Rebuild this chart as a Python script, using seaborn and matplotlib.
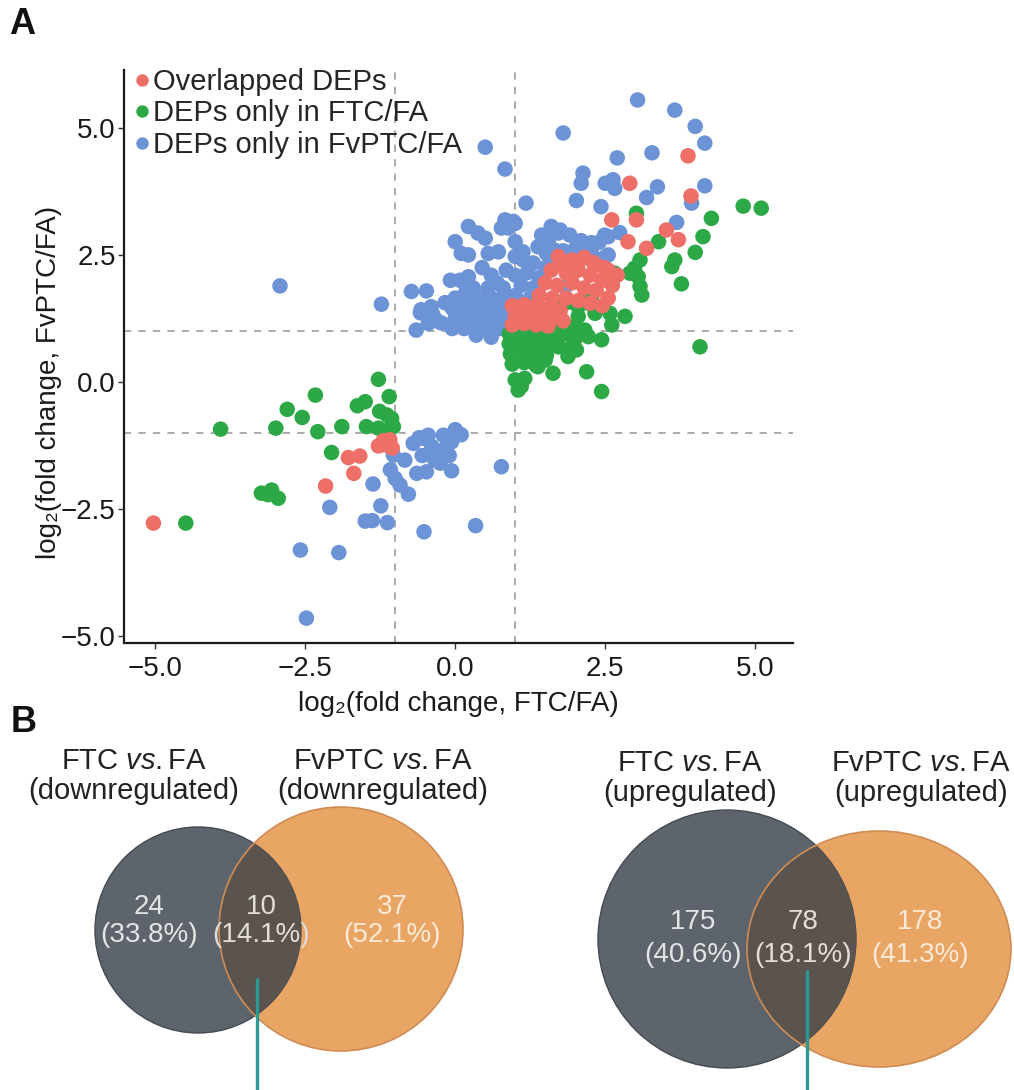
import numpy as np
import pandas as pd
import matplotlib
matplotlib.use("Agg")
import matplotlib.pyplot as plt
from matplotlib.patches import Circle, Ellipse
import seaborn as sns

# ---------------- DATA (panel A) ----------------
group_names = ["Overlapped DEPs", "DEPs only in FTC/FA", "DEPs only in FvPTC/FA"]
group_colors = ["#EE6F67", "#2CA847", "#6B93D6"]

overlap_down = [(-5.03, -2.78), (-2.16, -2.05), (-1.69, -1.80), (-1.78, -1.49), (-1.59, -1.46),
                (-1.28, -1.26), (-1.17, -1.24), (-1.09, -1.14), (-1.20, -1.16), (-1.05, -1.30)]
overlap_up_outer = [(3.88, 4.45), (3.93, 3.66), (2.91, 3.91), (2.61, 3.19), (3.02, 3.19),
                    (2.88, 2.76), (3.19, 2.63), (3.52, 2.99), (3.72, 2.80)]
overlap_up_core = [(1.72, 2.47), (1.95, 2.40), (2.15, 2.45), (2.35, 2.30), (2.55, 2.20), (2.70, 2.10),
                   (1.60, 2.20), (1.85, 2.15), (2.05, 2.20), (2.25, 2.10), (2.45, 2.00), (2.62, 1.90),
                   (1.50, 1.95), (1.70, 1.90), (1.95, 1.95), (2.15, 1.85), (2.35, 1.80), (2.55, 1.65),
                   (1.40, 1.70), (1.62, 1.65), (1.85, 1.65), (2.05, 1.60), (2.25, 1.55), (2.45, 1.50),
                   (2.30, 2.35), (2.05, 2.35), (1.80, 2.30), (2.48, 2.25),
                   (0.95, 1.50), (1.15, 1.52), (1.35, 1.50), (1.55, 1.45), (1.00, 1.30), (1.20, 1.32),
                   (1.40, 1.30), (1.60, 1.28), (0.95, 1.12), (1.15, 1.15), (1.35, 1.12), (1.55, 1.10),
                   (1.75, 1.40), (1.80, 1.20)]

ftc_down = [(-4.49, -2.78), (-3.91, -0.93), (-3.23, -2.19), (-3.06, -2.13), (-2.95, -2.29),
            (-3.12, -2.22), (-2.99, -0.91), (-2.80, -0.54), (-2.55, -0.70), (-2.33, -0.26),
            (-2.29, -0.98), (-2.06, -1.39), (-1.89, -0.88), (-1.63, -0.47), (-1.50, -0.39),
            (-1.28, 0.05), (-1.10, -0.29), (-1.26, -0.58), (-1.14, -0.65), (-1.06, -0.72),
            (-1.48, -0.88), (-1.28, -0.91), (-1.12, -0.94), (-1.03, -0.88)]
ftc_up_outer = [(4.80, 3.46), (5.10, 3.42), (4.27, 3.22), (4.13, 2.86), (4.00, 2.55), (3.66, 2.40),
                (3.61, 2.27), (3.77, 1.93), (3.39, 2.76), (3.02, 3.32), (3.08, 2.40), (2.99, 2.24),
                (3.05, 2.07), (3.08, 1.88), (3.11, 1.71), (2.91, 2.14), (2.66, 2.14), (2.83, 1.29),
                (2.44, 0.83), (4.08, 0.69)]
ftc_up_mid = [(2.58, 1.35), (2.61, 1.12), (2.22, 1.55), (2.33, 1.35), (2.16, 1.02), (2.22, 0.89),
              (1.99, 1.55), (2.05, 1.29), (1.99, 1.09), (1.77, 1.22), (1.94, 0.69), (1.88, 0.50),
              (2.02, 0.63), (2.19, 0.20), (2.44, -0.19), (1.63, 0.17), (1.83, 1.55), (2.05, 1.48),
              (2.27, 1.68), (1.66, 1.42)]
ftc_up_core = [(0.90, 0.95), (1.10, 0.98), (1.30, 0.95), (1.50, 0.92), (1.70, 0.98), (0.90, 0.75),
               (1.10, 0.78), (1.30, 0.75), (1.50, 0.72), (1.70, 0.78), (0.92, 0.55), (1.12, 0.58),
               (1.32, 0.55), (1.52, 0.52), (0.95, 0.35), (1.15, 0.38), (1.35, 0.32), (1.00, 0.04),
               (1.16, 0.07), (1.05, -0.16), (1.10, -0.09), (1.38, 0.30), (1.50, 0.43), (1.72, 0.69),
               (1.66, 0.89), (1.85, 0.95), (2.00, 0.85)]

fvptc_down = [(-2.48, -4.65), (-2.58, -3.31), (-1.94, -3.36), (-2.09, -2.47), (-1.24, -2.44),
              (-1.50, -2.74), (-1.38, -2.73), (-1.13, -2.77), (-1.37, -2.01), (-1.08, -1.73),
              (-1.00, -1.90), (-0.92, -2.03), (-0.78, -2.21), (-1.03, -1.44), (-0.84, -1.54),
              (-0.64, -1.80), (-0.48, -1.77), (-0.70, -1.21), (-0.53, -1.11), (-0.39, -1.27),
              (-0.28, -1.40), (-0.17, -1.31), (-0.06, -1.18), (0.00, -0.94), (0.10, -1.04),
              (-0.34, -1.54), (-0.06, -1.75), (-0.52, -2.95), (0.34, -2.83), (0.77, -1.67),
              (-0.45, -1.05), (-0.20, -1.05), (-0.35, -1.35), (-0.55, -1.45), (-0.10, -1.45),
              (-0.25, -1.60), (-0.60, -1.10)]
fvptc_up_high = [(3.04, 5.55), (3.66, 5.35), (4.00, 5.03), (4.16, 4.70), (1.80, 4.90), (0.50, 4.62),
                 (0.83, 4.19), (2.70, 4.41), (3.28, 4.51), (2.13, 4.11), (2.10, 3.91), (2.50, 3.91),
                 (2.63, 3.98), (2.66, 3.81), (3.37, 3.84), (3.19, 3.63), (4.16, 3.86), (3.94, 3.52),
                 (2.02, 3.57), (2.43, 3.45), (1.18, 3.52), (3.69, 3.14), (2.74, 2.94), (2.49, 2.89),
                 (2.30, 2.70), (2.22, 2.56), (2.55, 2.50), (1.72, 2.93), (1.91, 2.89), (1.55, 2.76)]
fvptc_up_mid = [(0.22, 3.06), (0.38, 2.93), (0.50, 2.83), (0.83, 3.19), (1.00, 3.12), (0.88, 3.03),
                (0.00, 2.76), (0.10, 2.53), (0.22, 2.50), (0.55, 2.53), (0.72, 2.56), (1.00, 2.76),
                (1.13, 2.56), (1.27, 2.33), (1.38, 2.66), (1.52, 2.53), (0.97, 3.16), (0.77, 3.03),
                (1.60, 3.06), (1.75, 2.99), (1.44, 2.89), (1.00, 2.47), (1.13, 2.40), (1.30, 2.34),
                (2.27, 2.74), (2.55, 2.86), (2.50, 2.46), (2.27, 2.54),
                (2.00, 2.62), (1.80, 2.58), (2.40, 2.75), (1.65, 2.42), (2.10, 2.78)]
fvptc_up_left = [(-2.92, 1.89), (-1.23, 1.53), (-0.73, 1.78), (-0.48, 1.79), (-0.65, 1.02),
                 (-0.57, 1.42), (-0.37, 1.32), (-0.23, 1.16), (-0.17, 1.56), (-0.40, 1.48),
                 (-0.58, 1.36), (-0.08, 2.00), (0.08, 2.00), (0.22, 2.07), (0.17, 1.75),
                 (-0.30, 1.20), (-0.45, 1.15)]
fvptc_up_core = [(0.30, 1.85), (0.55, 1.85), (0.80, 1.85),
                 (0.00, 1.65), (0.20, 1.65), (0.40, 1.65), (0.60, 1.65), (0.80, 1.65), (0.95, 1.65),
                 (-0.05, 1.45), (0.15, 1.45), (0.35, 1.45), (0.55, 1.45), (0.75, 1.45), (0.90, 1.45),
                 (0.00, 1.25), (0.20, 1.25), (0.40, 1.25), (0.60, 1.25), (0.80, 1.25),
                 (-0.05, 1.05), (0.15, 1.05), (0.35, 1.05), (0.55, 1.05), (0.75, 1.05),
                 (0.60, 0.88), (0.35, 0.92),
                 (1.00, 2.10), (1.20, 2.15), (1.40, 2.05), (1.10, 1.90), (1.30, 1.85), (1.50, 2.25),
                 (1.00, 1.70), (1.25, 1.65), (0.60, 2.10), (0.85, 2.20), (0.45, 2.25), (0.70, 1.95),
                 (1.72, 2.40), (1.83, 1.87), (2.10, 2.55), (1.65, 2.60)]

axis_ticks = [-5.0, -2.5, 0.0, 2.5, 5.0]
cutoffs = [-1.0, 1.0]

# ---------------- DATA (panel B) ----------------
venn_down_counts = [24, 10, 37]
venn_up_counts = [175, 78, 178]
venn_down_titles = ["FTC $\\mathit{vs.}$FA\n(downregulated)", "FvPTC $\\mathit{vs.}$FA\n(downregulated)"]
venn_up_titles = ["FTC $\\mathit{vs.}$FA\n(upregulated)", "FvPTC $\\mathit{vs.}$FA\n(upregulated)"]

# ---------------- STYLE ----------------
sns.set_theme(style="ticks")
plt.rcParams['font.family'] = ['Liberation Sans', 'DejaVu Sans']
plt.rcParams['mathtext.fontset'] = 'custom'
plt.rcParams['mathtext.rm'] = 'Liberation Sans'
plt.rcParams['mathtext.it'] = 'Liberation Sans:italic'
plt.rcParams['mathtext.bf'] = 'Liberation Sans:bold'

W, H = 1014, 1090
fig = plt.figure(figsize=(W / 100, H / 100), dpi=100)
fig.patch.set_facecolor("white")

# background axes in pixel coordinates for panel B
bg = fig.add_axes([0, 0, 1, 1])
bg.set_xlim(0, W)
bg.set_ylim(H, 0)
bg.axis("off")
bg.patch.set_alpha(0)

# ---------------- PANEL A ----------------
def frame(points, name):
    arr = np.array(points, dtype=float)
    return pd.DataFrame({"x": arr[:, 0], "y": arr[:, 1], "group": name})

df = pd.concat([
    frame(fvptc_down + fvptc_up_high + fvptc_up_mid + fvptc_up_left + fvptc_up_core, group_names[2]),
    frame(ftc_down + ftc_up_outer + ftc_up_mid + ftc_up_core, group_names[1]),
    frame(overlap_down + overlap_up_outer + overlap_up_core, group_names[0]),
], ignore_index=True)

ax = fig.add_axes([124 / W, 1 - 643 / H, 669 / W, 573 / H])
for c in cutoffs:
    ax.axhline(c, color="#A5A5A5", lw=1.3, dashes=(4, 4), zorder=0)
    ax.axvline(c, color="#A5A5A5", lw=1.3, dashes=(4, 4), zorder=0)

sns.scatterplot(data=df, x="x", y="y", hue="group", hue_order=group_names,
                palette=dict(zip(group_names, group_colors)), s=125, linewidth=0,
                alpha=1.0, ax=ax, legend=True, zorder=2)

ax.set_xlim(-5.52, 5.63)
ax.set_ylim(-5.14, 6.14)
ax.set_xticks(axis_ticks)
ax.set_yticks(axis_ticks)
fmt = lambda t: f"{t:.1f}".replace("-", "\u2212")
ax.set_xticklabels([fmt(t) for t in axis_ticks])
ax.set_yticklabels([fmt(t) for t in axis_ticks])
ax.tick_params(axis="both", labelsize=20, length=4, width=1, color="#333333",
               labelcolor="#1a1a1a")
ax.tick_params(axis="x", pad=5)
ax.tick_params(axis="y", pad=2)
for s in ["top", "right"]:
    ax.spines[s].set_visible(False)
for s in ["left", "bottom"]:
    ax.spines[s].set_color("#1a1a1a")
    ax.spines[s].set_linewidth(1.6)
ax.set_xlabel("log\u2082(fold change, FTC/FA)", fontsize=20, color="#1a1a1a", labelpad=7)
ax.set_ylabel("log\u2082(fold change, FvPTC/FA)", fontsize=20, color="#1a1a1a")
ax.yaxis.set_label_coords(-0.092, 0.455)
ax.set_facecolor("none")

handles, labels = ax.get_legend_handles_labels()
ax.legend(handles, labels, loc="upper left", bbox_to_anchor=(-0.004, 1.024), frameon=False,
          fontsize=21, handletextpad=0.1, labelspacing=0.12, borderaxespad=0.0,
          handlelength=0.6, markerscale=0.8)

# ---------------- PANEL B ----------------
venn_layout = {
    "down": dict(c1=(198, 930), r1=103, c2=(341, 929), wh2=(244, 244),
                 title_x=(134, 383), title_y=776, num_x=(149, 261, 392), num_y=(907, 935),
                 line=(257, 978)),
    "up": dict(c1=(727, 939), r1=129, c2=(879, 949), wh2=(264, 236),
               title_x=(690, 921), title_y=778, num_x=(693, 803, 920), num_y=(922, 955),
               line=(807, 970)),
}
dark_fill, dark_edge = "#5D646C", "#434A53"
orange_fill, orange_edge = "#E9A563", "#CF8D55"
overlap_fill = "#5B534E"
num_colors = ["#E4E4E4", "#E2DDD8", "#FBEAD8"]


def draw_venn(lay, counts, titles):
    total = sum(counts)
    orange = Ellipse(lay["c2"], lay["wh2"][0], lay["wh2"][1], facecolor=orange_fill,
                     edgecolor="none", zorder=1)
    bg.add_patch(orange)
    bg.add_patch(Circle(lay["c1"], lay["r1"], facecolor=dark_fill, edgecolor=dark_edge,
                        lw=1.0, zorder=2))
    ov = Circle(lay["c1"], lay["r1"], facecolor=overlap_fill, edgecolor="none", zorder=3)
    bg.add_patch(ov)
    ov.set_clip_path(orange)
    bg.add_patch(Ellipse(lay["c2"], lay["wh2"][0], lay["wh2"][1], facecolor="none",
                         edgecolor=orange_edge, lw=1.2, zorder=4))
    for tx, tt in zip(lay["title_x"], titles):
        bg.text(tx, lay["title_y"], tt, ha="center", va="center", fontsize=21,
                color="#222222", linespacing=1.05, zorder=6)
    for nx, cnt, col in zip(lay["num_x"], counts, num_colors):
        bg.text(nx, lay["num_y"][0], f"{cnt}", ha="center", va="center", fontsize=20,
                color=col, zorder=6)
        bg.text(nx, lay["num_y"][1], f"({100 * cnt / total:.1f}%)", ha="center", va="center",
                fontsize=20, color=col, zorder=6)
    lx, ly = lay["line"]
    bg.plot([lx, lx], [ly, H], color="#2A9A92", lw=2.4, zorder=5, solid_capstyle="butt")


draw_venn(venn_layout["down"], venn_down_counts, venn_down_titles)
draw_venn(venn_layout["up"], venn_up_counts, venn_up_titles)

# panel letters
bg.text(9, 7, "A", ha="left", va="top", fontsize=26, fontweight="bold", color="#111111")
bg.text(11, 705, "B", ha="left", va="top", fontsize=26, fontweight="bold", color="#111111")

fig.savefig("out.png", dpi=100, facecolor="white")
